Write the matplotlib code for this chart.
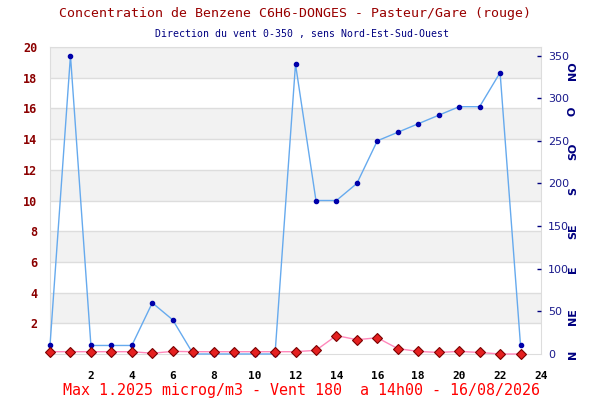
import numpy as np
import matplotlib
matplotlib.use('Agg')
import matplotlib.pyplot as plt

# hourly values
hours = list(range(24))
benzene = [0.15, 0.15, 0.15, 0.15, 0.15, 0.05, 0.17, 0.15, 0.15, 0.15, 0.15, 0.15,
           0.15, 0.24, 1.2025, 0.93, 1.06, 0.35, 0.17, 0.1, 0.17, 0.1, 0.0, 0.0]
wind = [10, 350, 10, 10, 10, 60, 40, 0, 0, 0, 0, 0,
        340, 180, 180, 200, 250, 260, 270, 280, 290, 290, 330, 10]

left_ticks = list(range(2, 21, 2))
right_ticks = list(range(0, 351, 50))
x_ticks = list(range(2, 25, 2))
compass = ['N', 'NE', 'E', 'SE', 'S', 'SO', 'O', 'NO']
compass_pos = [0, 44, 99, 144, 191, 238, 285, 332]

title = 'Concentration de Benzene C6H6-DONGES - Pasteur/Gare (rouge)'
subtitle = 'Direction du vent 0-350 , sens Nord-Est-Sud-Ouest'
footer = 'Max 1.2025 microg/m3 - Vent 180  a 14h00 - 16/08/2026'

mono = 'DejaVu Sans Mono'
grid_col = '#dddddd'

fig = plt.figure(figsize=(6, 4), dpi=100)
ax = fig.add_axes([50 / 600, 1 - 354 / 400, 491 / 600, 307 / 400])
ax2 = ax.twinx()

# alternating bands + grid
for lo in range(2, 20, 4):
    ax.axhspan(lo, lo + 2, color='#f2f2f2', zorder=0, lw=0)
for y in left_ticks:
    ax.axhline(y, color=grid_col, lw=1, zorder=1)

ax.set_xlim(0, 24)
ax.set_ylim(0, 20)
ax2.set_ylim(0, 360)

# wind direction (right axis)
ax2.plot(hours, wind, color='#66aaee', lw=1, marker='o', ms=3,
         mfc='#0000aa', mec='#0000aa', zorder=3, clip_on=False)

# benzene concentration (left axis), drawn on top
ax2.plot(hours, benzene, transform=ax.transData, color='#ff88bb', lw=1,
         marker='D', ms=5.5, mfc='#e52020', mec='#7a0000', mew=0.8,
         zorder=4, clip_on=False)

for a in (ax, ax2):
    for s in a.spines.values():
        s.set_color(grid_col)
for side in ('left', 'top', 'bottom', 'right'):
    ax2.spines[side].set_visible(False)

ax.set_yticks(left_ticks)
ax.set_yticklabels([str(v) for v in left_ticks], color='#8b0000',
                   fontfamily=mono, fontweight='bold', fontsize=8.5)
ax.tick_params(axis='y', length=0, pad=9)

ax.set_xticks(x_ticks)
ax.set_xticklabels([str(v) for v in x_ticks], color='black',
                   fontfamily=mono, fontweight='bold', fontsize=8)
ax.tick_params(axis='x', length=0, pad=12)

ax2.set_yticks(right_ticks)
ax2.set_yticklabels([str(v) for v in right_ticks], color='#1a1a8c', fontsize=8)
ax2.tick_params(axis='y', colors='#000080', length=3, width=1, pad=5,
                direction='in')
for t in ax2.yaxis.get_ticklabels():
    t.set_color('#1a1a8c')
ax2.yaxis.get_major_ticks()[0].tick2line.set_visible(False)

for lab, pos in zip(compass, compass_pos):
    ax2.text(1.0 + 32 / 491, pos, lab, rotation=90, va='center', ha='center',
             color='#000080', fontweight='bold', fontsize=8,
             transform=ax2.get_yaxis_transform())

fig.text(0.492, 1 - 14 / 400, title, ha='center', va='center',
         fontfamily=mono, fontsize=9.5, color='#990000')
fig.text(0.503, 1 - 34 / 400, subtitle, ha='center', va='center',
         fontfamily=mono, fontsize=7.1, color='#000080')
fig.text(0.503, 1 - 391 / 400, footer, ha='center', va='center',
         fontfamily=mono, fontsize=10.8, color='#ff0000')

fig.savefig('out.png', dpi=100, facecolor='white')
